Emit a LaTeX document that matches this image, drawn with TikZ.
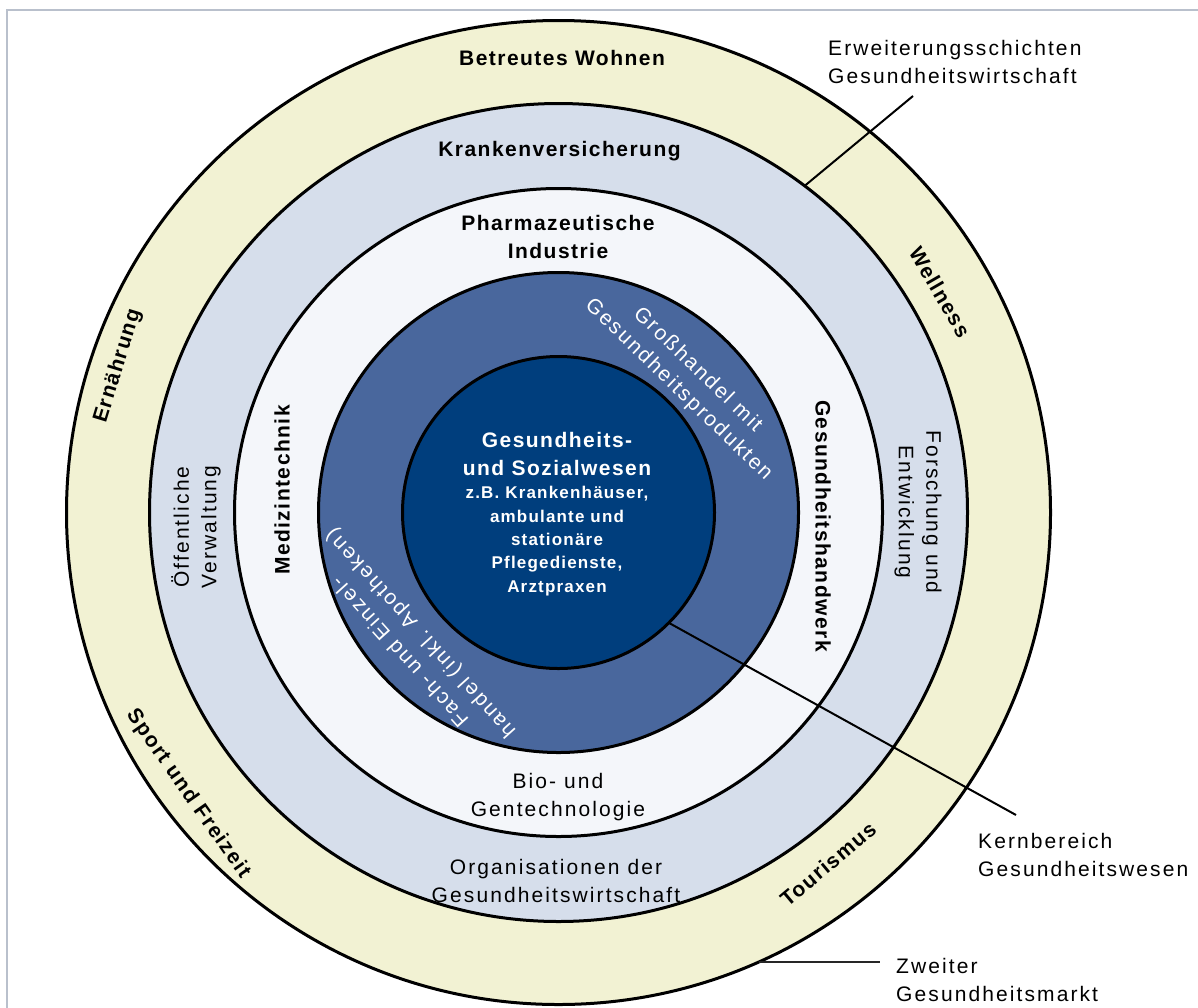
\documentclass[tikz,border=0pt]{standalone}
\usepackage{fontspec}
\setmainfont{Liberation Sans}
\newfontfamily\spR[LetterSpace=10]{Liberation Sans}
\newfontfamily\spB[LetterSpace=7]{Liberation Sans}
\usetikzlibrary{calc}
\definecolor{ringY}{RGB}{242,242,211}
\definecolor{ringB}{RGB}{214,222,235}
\definecolor{ringW}{RGB}{244,246,250}
\definecolor{ringM}{RGB}{73,103,157}
\definecolor{ringD}{RGB}{0,62,125}
\definecolor{framec}{RGB}{185,192,204}
\tikzset{
  ring/.style={circle, draw=black, line width=3pt, inner sep=0pt, outer sep=0pt},
  lbl/.style={font=\spR\fontsize{21}{27.5}\selectfont, align=center, inner sep=0pt, text=black},
  blbl/.style={font=\spB\bfseries\fontsize{21}{27.5}\selectfont, align=center, inner sep=0pt, text=black},
  wlbl/.style={lbl, text=white},
  wblbl/.style={blbl, text=white},
  smallw/.style={font=\spB\bfseries\fontsize{17}{23.3}\selectfont, align=center, inner sep=0pt, text=white},
  note/.style={font=\spR\fontsize{21}{28}\selectfont, align=left, inner sep=0pt, anchor=west, text=black},
  leader/.style={draw=black, line width=2pt},
}
\begin{document}
\begin{tikzpicture}[x=1pt,y=-1pt]
\useasboundingbox (0,0) rectangle (1198,1007);
\clip (0,0) rectangle (1198,1007);
\fill[white] (0,0) rectangle (1198,1007);
\draw[framec, line width=2.5pt] (7,1030) -- (7,10) -- (1220,10);

\coordinate (c) at (558.5,512.5);
\node[ring, fill=ringY, minimum size=984pt] (outer) at (c) {};
\node[ring, fill=ringB, minimum size=818pt] (second) at (c) {};
\node[ring, fill=ringW, minimum size=648pt] (third) at (c) {};
\node[ring, fill=ringM, minimum size=480pt] (fourth) at (c) {};
\node[ring, fill=ringD, minimum size=312pt] (core) at (c) {};

% leader lines
\coordinate (el) at (913,96);
\coordinate (kl) at (1016,815);
\coordinate (zl) at (880,963);
\draw[leader] (el) -- (second.53.7);
\draw[leader] (core.-45.5) -- (kl);
\draw[leader, line width=2.2pt, black!85] (outer.-66.3) -- (outer.-66.3 -| zl);

% outer ring labels
\node[blbl] (betreut) at (562,58) {Betreutes Wohnen};
\node[blbl, rotate=73] (ernaehrung) at (118,366) {Ernährung};
\node[blbl, rotate=-55] (sport) at (188,794) {Sport und Freizeit};
\node[blbl, rotate=40] (tourismus) at (828,864) {Tourismus};
\node[blbl, rotate=-60] (wellness) at (940,292) {Wellness};

% second ring labels
\node[blbl] (krank) at (559.5,151.5) {Krankenversicherung};
\node[lbl, rotate=90] (oeff) at (196,527) {Öffentliche\\Verwaltung};
\node[lbl, rotate=-90] (forsch) at (918,512) {Forschung und\\Entwicklung};
\node[lbl] (orga) at (556,881) {Organisationen der\\Gesundheitswirtschaft};

% third ring labels
\node[blbl] (pharma) at (558,237) {Pharmazeutische\\Industrie};
\node[blbl, rotate=90] (medtech) at (282,490) {Medizintechnik};
\node[blbl, rotate=-90] (handwerk) at (823,526) {Gesundheitshandwerk};
\node[lbl] (bio) at (558,797) {Bio- und\\Gentechnologie};

% fourth ring labels
\node[wlbl, rotate=-44] (gross) at (688,380) {Großhandel mit\\Gesundheitsprodukten};
\node[wlbl, rotate=132] (fach) at (411,642) {Fach- und Einzel-\\handel (inkl. Apotheken)};

% core labels
\node[wblbl] (coretitle) at (557,454) {Gesundheits-\\und Sozialwesen};
\node[smallw] (coredetail) at (557,541) {z.B. Krankenhäuser,\\ambulante und\\stationäre\\Pflegedienste,\\Arztpraxen};

% annotations
\node[note] (erw) at (828,62) {Erweiterungsschichten\\Gesundheitswirtschaft};
\node[note] (kern) at (978,855) {Kernbereich\\Gesundheitswesen};
\node[note] (zweit) at (896,980) {Zweiter\\Gesundheitsmarkt};
\end{tikzpicture}
\end{document}
